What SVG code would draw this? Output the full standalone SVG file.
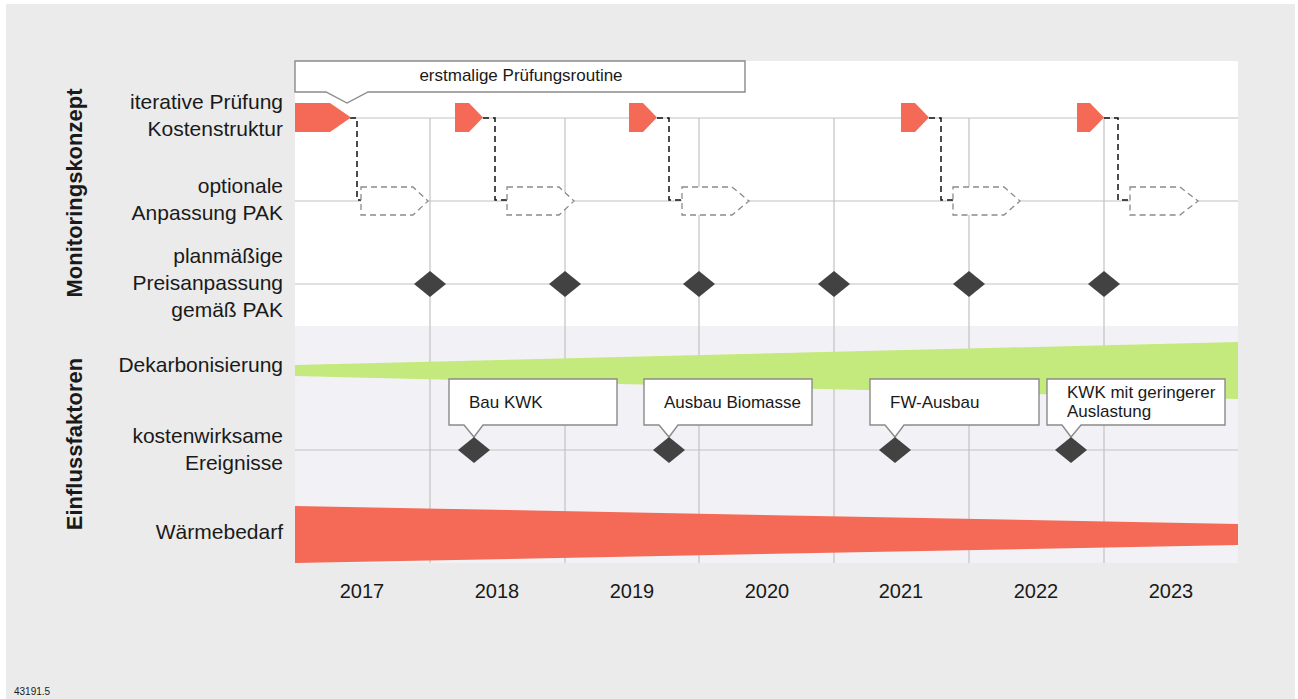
<svg xmlns="http://www.w3.org/2000/svg" width="1298" height="699" viewBox="0 0 1298 699">
<style>
text{font-family:"Liberation Sans",Arial,sans-serif;fill:#1a1a1a}
.lab{font-size:21px;text-anchor:end}
.axis{font-size:22px;font-weight:bold;text-anchor:middle}
.yr{font-size:20px;text-anchor:middle}
.ct{font-size:17px}
.grid{stroke:#c2c2c2;stroke-width:1.2;fill:none}
.red{fill:#f46a56}
.dia{fill:#424242}
.box{fill:#fff;stroke:#8a8a8a;stroke-width:1.4}
.opt{fill:#fff;stroke:#8a8a8a;stroke-width:1.3;stroke-dasharray:6 4}
.conn{fill:none;stroke:#111;stroke-width:1.5;stroke-dasharray:6 4}
</style>
<rect x="0" y="0" width="1298" height="699" fill="#fff"/>
<rect x="6" y="4" width="1289" height="695" fill="#ebebeb"/>
<rect id="panel-top" x="295" y="61" width="943" height="265" fill="#fff"/>
<rect id="panel-bottom" x="295" y="326" width="943" height="237" fill="#f2f2f6"/>

<g id="grid" class="grid">
<line x1="295" y1="118" x2="1238" y2="118"/>
<line x1="295" y1="201" x2="1238" y2="201"/>
<line x1="295" y1="284" x2="1238" y2="284"/>
<line x1="295" y1="450" x2="1238" y2="450"/>
<line x1="430" y1="118" x2="430" y2="563"/>
<line x1="565" y1="118" x2="565" y2="563"/>
<line x1="699" y1="118" x2="699" y2="563"/>
<line x1="834" y1="118" x2="834" y2="563"/>
<line x1="969" y1="118" x2="969" y2="563"/>
<line x1="1104" y1="118" x2="1104" y2="563"/>
</g>

<g id="dekarbonisierung"><polygon points="295,365 1238,342 1238,399 295,376" fill="#c4e97c"/></g>
<g id="waermebedarf"><polygon points="295,506 1238,524 1238,545 295,563" class="red"/></g>

<g id="callout-erstmalig">
<path class="box" d="M295,61 H745 V92 H368 L347,103 L326,92 H295 Z"/>
<text class="ct" x="521" y="81" text-anchor="middle">erstmalige Prüfungsroutine</text>
</g>

<g id="connectors">
<polyline class="conn" points="350,118 357,118 357,200 361,200"/>
<polyline class="conn" points="483,118 495,118 495,200 507,200"/>
<polyline class="conn" points="657,118 669,118 669,200 682,200"/>
<polyline class="conn" points="929,118 941,118 941,200 953,200"/>
<polyline class="conn" points="1104,118 1118,118 1118,200 1130,200"/>
</g>

<g id="pruefung">
<polygon class="red" points="295,103 330,103 351,117.5 330,132 295,132"/>
<polygon class="red" points="455,103 469,103 483,117.5 469,132 455,132"/>
<polygon class="red" points="629,103 643,103 657,117.5 643,132 629,132"/>
<polygon class="red" points="901,103 915,103 929,117.5 915,132 901,132"/>
<polygon class="red" points="1077,103 1090,103 1104,117.5 1090,132 1077,132"/>
</g>

<g id="anpassung">
<polygon class="opt" points="361,187 413,187 428,201 413,215 361,215"/>
<polygon class="opt" points="507,187 559,187 574,201 559,215 507,215"/>
<polygon class="opt" points="682,187 732,187 749,201 732,215 682,215"/>
<polygon class="opt" points="953,187 1004,187 1020,201 1004,215 953,215"/>
<polygon class="opt" points="1130,187 1180,187 1198,201 1180,215 1130,215"/>
</g>

<g id="preisanpassung">
<polygon class="dia" points="430,271 446,284 430,297 414,284"/>
<polygon class="dia" points="565,271 581,284 565,297 549,284"/>
<polygon class="dia" points="699,271 715,284 699,297 683,284"/>
<polygon class="dia" points="834,271 850,284 834,297 818,284"/>
<polygon class="dia" points="969,271 985,284 969,297 953,284"/>
<polygon class="dia" points="1104,271 1120,284 1104,297 1088,284"/>
</g>

<g id="event-bau-kwk">
<path class="box" d="M449,379 H617 V425 H483 L474,437 L464,425 H449 Z"/>
<text class="ct" x="469" y="408">Bau KWK</text>
<polygon class="dia" points="474,437 490,450 474,463 458,450"/>
</g>
<g id="event-biomasse">
<path class="box" d="M644,379 H812 V425 H678 L669,437 L659,425 H644 Z"/>
<text class="ct" x="664" y="408">Ausbau Biomasse</text>
<polygon class="dia" points="669,437 685,450 669,463 653,450"/>
</g>
<g id="event-fw">
<path class="box" d="M870,379 H1039 V425 H904 L895,437 L885,425 H870 Z"/>
<text class="ct" x="890" y="408">FW-Ausbau</text>
<polygon class="dia" points="895,437 911,450 895,463 879,450"/>
</g>
<g id="event-kwk-auslastung">
<path class="box" d="M1047,379 H1225 V425 H1081 L1071,437 L1062,425 H1047 Z"/>
<text class="ct" x="1067" y="398">KWK mit geringerer</text>
<text class="ct" x="1067" y="417">Auslastung</text>
<polygon class="dia" points="1071,437 1087,450 1071,463 1055,450"/>
</g>

<g id="labels">
<text class="lab" x="283" y="109">iterative Prüfung</text>
<text class="lab" x="283" y="136">Kostenstruktur</text>
<text class="lab" x="283" y="193">optionale</text>
<text class="lab" x="283" y="220">Anpassung PAK</text>
<text class="lab" x="283" y="263">planmäßige</text>
<text class="lab" x="283" y="290">Preisanpassung</text>
<text class="lab" x="283" y="317">gemäß PAK</text>
<text class="lab" x="283" y="372">Dekarbonisierung</text>
<text class="lab" x="283" y="443">kostenwirksame</text>
<text class="lab" x="283" y="470">Ereignisse</text>
<text class="lab" x="283" y="539">Wärmebedarf</text>
</g>

<g id="group-labels">
<text class="axis" transform="translate(82,193) rotate(-90)">Monitoringskonzept</text>
<text class="axis" transform="translate(82,444) rotate(-90)">Einflussfaktoren</text>
</g>

<g id="years">
<text class="yr" x="362" y="598">2017</text>
<text class="yr" x="497" y="598">2018</text>
<text class="yr" x="632" y="598">2019</text>
<text class="yr" x="767" y="598">2020</text>
<text class="yr" x="901" y="598">2021</text>
<text class="yr" x="1036" y="598">2022</text>
<text class="yr" x="1171" y="598">2023</text>
</g>

<text x="14" y="695" font-size="10">43191.5</text>
</svg>
